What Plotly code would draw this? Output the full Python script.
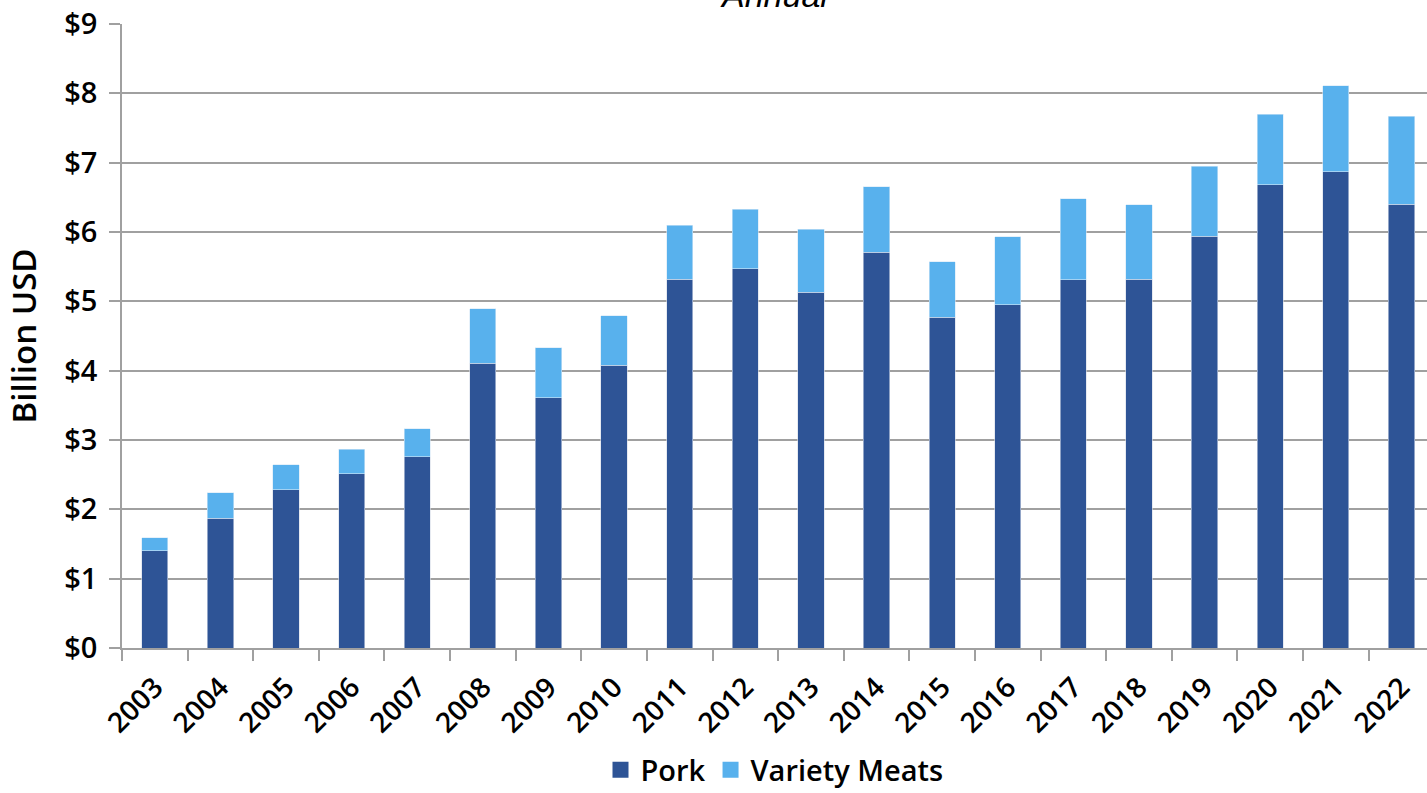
import plotly.graph_objects as go

years = [str(y) for y in range(2003, 2023)]
pork = [1.40, 1.875, 2.28, 2.51, 2.755, 4.11, 3.61, 4.08, 5.32, 5.47, 5.13, 5.71, 4.77, 4.95, 5.31, 5.32, 5.94, 6.68, 6.87, 6.40]
total = [1.59, 2.24, 2.64, 2.87, 3.16, 4.89, 4.33, 4.79, 6.10, 6.33, 6.04, 6.65, 5.57, 5.93, 6.48, 6.39, 6.95, 7.70, 8.11, 7.67]
variety = [round(t - p, 3) for t, p in zip(total, pork)]
ytick_vals = list(range(0, 10))
ytick_text = ["$" + str(v) for v in ytick_vals]

PORK_C = "#2E5496"
VAR_C = "#58B1ED"
FONT = "Open Sans"
W = 600

fig = go.Figure()
fig.add_trace(go.Bar(x=years, y=pork, name="Pork", showlegend=False,
                     marker=dict(color=PORK_C, line=dict(width=0.6, color="#D6DCE8")), width=0.4))
fig.add_trace(go.Bar(x=years, y=variety, name="Variety Meats", showlegend=False,
                     marker=dict(color=VAR_C, line=dict(width=0.6, color="#D6E8F6")), width=0.4))
# legend entries with larger square swatches
fig.add_trace(go.Scatter(x=[None], y=[None], mode="markers", name="Pork",
                         marker=dict(symbol="square", size=21, color=PORK_C)))
fig.add_trace(go.Scatter(x=[None], y=[None], mode="markers", name="Variety Meats",
                         marker=dict(symbol="square", size=21, color=VAR_C)))

fig.update_layout(
    barmode="stack",
    width=1427, height=793,
    margin=dict(l=122, r=0, t=24, b=145, autoexpand=False),
    plot_bgcolor="white", paper_bgcolor="white",
    font=dict(family=FONT, size=29, color="black", weight=W),
    showlegend=True,
    legend=dict(orientation="h", x=0.5, xanchor="center", y=-0.1955, yanchor="middle",
                font=dict(family=FONT, size=29, weight=W), itemwidth=30, traceorder="normal",
                bgcolor="rgba(0,0,0,0)"),
)
fig.update_xaxes(type="category", range=[-0.5, 19.39], tickangle=-45, showline=True, linecolor="#A0A0A0", linewidth=1.5,
                 ticks="outside", tickson="boundaries", ticklen=11, tickcolor="#A0A0A0", tickwidth=1.5,
                 ticklabelstandoff=10,
                 tickfont=dict(family=FONT, size=28, weight=W), showgrid=False)
fig.update_yaxes(range=[0, 9], tickvals=ytick_vals, ticktext=ytick_text, showgrid=True, gridcolor="#A0A0A0", gridwidth=1.5,
                 showline=True, linecolor="#A0A0A0", linewidth=1.5, ticks="outside", ticklen=11, tickcolor="#A0A0A0", tickwidth=1.5,
                 tickfont=dict(family=FONT, size=29, weight=W), zeroline=False, ticklabelstandoff=6,
                 title=dict(text="Billion USD", font=dict(family=FONT, size=33, weight=W), standoff=18))
fig.add_annotation(text="<i>Annual</i>", xref="paper", yref="paper", x=0.5, y=1.046, yanchor="middle", showarrow=False,
                   font=dict(family="Liberation Sans", size=34, color="black", weight="normal"))
fig.write_html("out.html", config={"displayModeBar": False}, post_script="document.body.style.margin='0px';")
